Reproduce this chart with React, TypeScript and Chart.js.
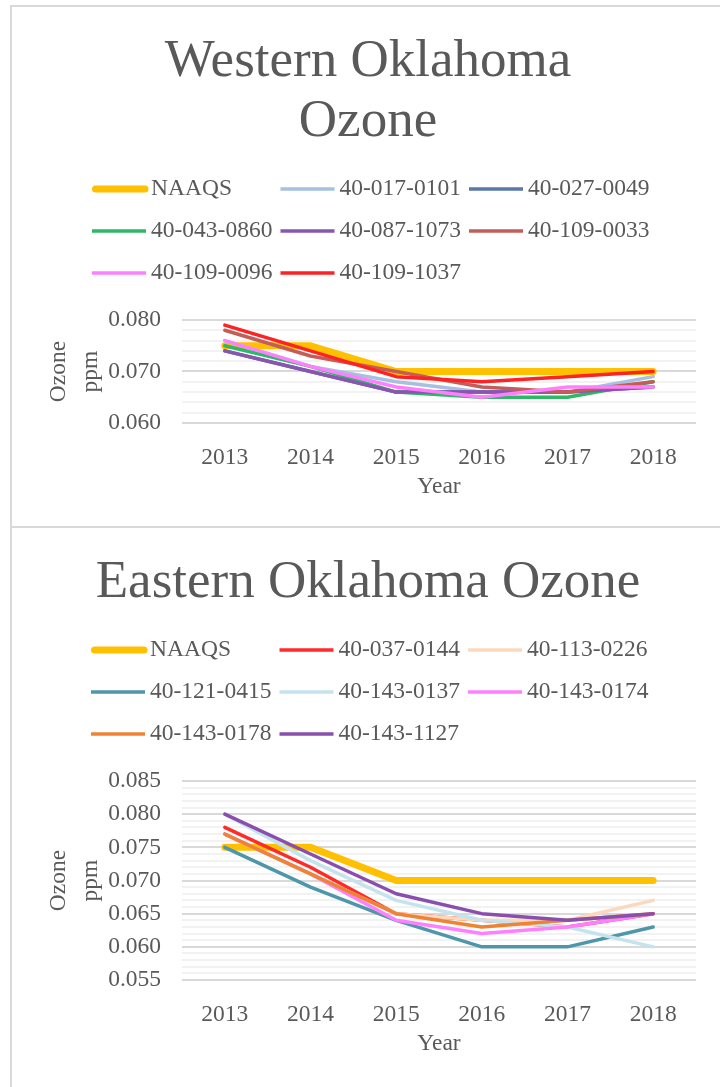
import React, { useEffect, useRef } from 'react';
import { Chart, registerables } from 'chart.js';

Chart.register(...registerables);

const FONT = "'Liberation Serif', 'Times New Roman', serif";
const TEXT = '#595959';

// ---- data ----
const YEARS = ['2013', '2014', '2015', '2016', '2017', '2018'];
const NAAQS = [0.075, 0.075, 0.07, 0.07, 0.07, 0.07];

// Western Oklahoma
const W_017_0101 = [0.076, 0.071, 0.068, 0.066, 0.066, 0.069];
const W_027_0049 = [0.074, 0.07, 0.066, 0.066, 0.066, 0.067];
const W_043_0860 = [0.075, 0.071, 0.066, 0.065, 0.065, 0.068];
const W_087_1073 = [0.074, 0.07, 0.066, 0.066, 0.066, 0.067];
const W_109_0033 = [0.078, 0.073, 0.07, 0.067, 0.066, 0.068];
const W_109_0096 = [0.076, 0.071, 0.067, 0.065, 0.067, 0.067];
const W_109_1037 = [0.079, 0.074, 0.069, 0.068, 0.069, 0.07];

// Eastern Oklahoma
const E_037_0144 = [0.078, 0.072, 0.065, 0.064, 0.063, 0.065];
const E_113_0226 = [0.077, 0.071, 0.065, 0.064, 0.064, 0.067];
const E_121_0415 = [0.075, 0.069, 0.064, 0.06, 0.06, 0.063];
const E_143_0137 = [0.08, 0.073, 0.067, 0.064, 0.063, 0.06];
const E_143_0174 = [0.077, 0.071, 0.064, 0.062, 0.063, 0.065];
const E_143_0178 = [0.077, 0.071, 0.065, 0.063, 0.064, 0.065];
const E_143_1127 = [0.08, 0.074, 0.068, 0.065, 0.064, 0.065];

const WEST_SERIES = [
  { label: 'NAAQS', data: NAAQS, color: '#ffc000' },
  { label: '40-017-0101', data: W_017_0101, color: '#a6c0e0' },
  { label: '40-027-0049', data: W_027_0049, color: '#5a78a8' },
  { label: '40-043-0860', data: W_043_0860, color: '#2cb865' },
  { label: '40-087-1073', data: W_087_1073, color: '#8a55b0' },
  { label: '40-109-0033', data: W_109_0033, color: '#c45c58' },
  { label: '40-109-0096', data: W_109_0096, color: '#ff80ff' },
  { label: '40-109-1037', data: W_109_1037, color: '#ff2222' },
];

const EAST_SERIES = [
  { label: 'NAAQS', data: NAAQS, color: '#ffc000' },
  { label: '40-037-0144', data: E_037_0144, color: '#ff2a2a' },
  { label: '40-113-0226', data: E_113_0226, color: '#fcd8bc' },
  { label: '40-121-0415', data: E_121_0415, color: '#4e96aa' },
  { label: '40-143-0137', data: E_143_0137, color: '#c5e3ec' },
  { label: '40-143-0174', data: E_143_0174, color: '#ff80ff' },
  { label: '40-143-0178', data: E_143_0178, color: '#ee8433' },
  { label: '40-143-1127', data: E_143_1127, color: '#8a4fae' },
];

function gridLegend(colX: number) {
  return {
    id: 'gridLegend',
    afterDraw(chart: any) {
      const ctx = chart.ctx;
      const top = chart.chartArea.top;
      const rows = [-131, -89, -47];
      ctx.save();
      chart.data.datasets.forEach((ds: any, i: number) => {
        const r = Math.floor(i / 3);
        const c = i % 3;
        const x = colX + 188.5 * c;
        const y = top + rows[r];
        ctx.strokeStyle = ds.borderColor;
        ctx.lineWidth = ds.borderWidth;
        ctx.beginPath();
        if (i === 0) {
          ctx.lineCap = 'round';
          ctx.moveTo(x + 3.5, y);
          ctx.lineTo(x + 53, y);
        } else {
          ctx.lineCap = 'butt';
          ctx.moveTo(x, y);
          ctx.lineTo(x + 54, y);
        }
        ctx.stroke();
        ctx.fillStyle = TEXT;
        ctx.font = `23.5px ${FONT}`;
        ctx.textBaseline = 'middle';
        ctx.textAlign = 'left';
        ctx.fillText(ds.label, x + 59, y);
      });
      ctx.restore();
    },
  };
}

type Props = {
  title: string | string[];
  series: { label: string; data: number[]; color: string }[];
  yMin: number;
  yMax: number;
  step: number;
  major: number;
  width: number;
  height: number;
  titlePad: { top: number; bottom: number };
  bottomPad: number;
  colX: number;
};

function OzoneChart(p: Props) {
  const ref = useRef<HTMLCanvasElement | null>(null);
  useEffect(() => {
    if (!ref.current) return;
    const n = p.series.length;
    const isMajor = (v: number) => Math.round(v * 1000) % p.major === 0;
    const chart = new Chart(ref.current, {
      type: 'line',
      data: {
        labels: YEARS,
        datasets: p.series.map((s, i) => ({
          label: s.label,
          data: s.data,
          borderColor: s.color,
          backgroundColor: s.color,
          borderWidth: i === 0 ? 7 : 3.5,
          borderCapStyle: 'round',
          borderJoinStyle: 'round',
          pointRadius: 0,
          pointHoverRadius: 0,
          tension: 0,
          fill: false,
          order: n - i,
          yAxisID: 'y',
        })),
      },
      options: {
        responsive: false,
        animation: false,
        events: [],
        layout: { padding: { left: 0, right: 0, top: 0, bottom: p.bottomPad } },
        plugins: {
          legend: { display: false },
          tooltip: { enabled: false },
          title: {
            display: true,
            text: p.title,
            color: TEXT,
            font: { family: FONT, size: 53, weight: 'normal', lineHeight: 60 / 53 },
            padding: p.titlePad,
          },
        },
        scales: {
          x: {
            offset: true,
            grid: { display: false },
            border: { display: false },
            ticks: {
              color: TEXT,
              font: { family: FONT, size: 23.5 },
              padding: 13,
              maxRotation: 0,
              autoSkip: false,
            },
            title: {
              display: true,
              text: 'Year',
              color: TEXT,
              font: { family: FONT, size: 23.5, lineHeight: 1.2 },
              padding: { top: 0, bottom: 25 },
            },
            afterFit: (s: any) => {
              s.height = 103;
            },
          },
          y: {
            min: p.yMin,
            max: p.yMax,
            border: { display: false },
            grid: {
              drawTicks: false,
              lineWidth: 2,
              color: (c: any) => (c.tick && isMajor(c.tick.value) ? '#d9d9d9' : '#f2f2f2'),
            },
            ticks: {
              stepSize: p.step,
              maxTicksLimit: 200,
              autoSkip: false,
              padding: 21,
              color: TEXT,
              font: { family: FONT, size: 23.5 },
              callback: (v: any) => (isMajor(Number(v)) ? Number(v).toFixed(3) : ''),
            },
            title: {
              display: true,
              text: ['Ozone', 'ppm'],
              color: TEXT,
              font: { family: FONT, size: 23.5, lineHeight: 32 / 23.5 },
              padding: { top: 32, bottom: 0 },
            },
            afterFit: (s: any) => {
              s.width = 171;
            },
          },
          yRight: {
            position: 'right',
            display: true,
            min: p.yMin,
            max: p.yMax,
            grid: { display: false, drawTicks: false },
            border: { display: false },
            ticks: { display: false },
            afterFit: (s: any) => {
              s.width = 29;
            },
          },
        },
      } as any,
      plugins: [gridLegend(p.colX)],
    });
    return () => chart.destroy();
  }, []);
  return <canvas ref={ref} width={p.width} height={p.height} style={{ display: 'block' }} />;
}

export default function App() {
  return (
    <div
      style={{
        position: 'fixed',
        left: 0,
        top: 0,
        width: 720,
        height: 1087,
        overflow: 'hidden',
        background: '#ffffff',
      }}
    >
      <div
        style={{
          position: 'absolute',
          left: 10,
          top: 5,
          width: 740,
          height: 523,
          boxSizing: 'border-box',
          border: '2px solid #d9d9d9',
        }}
      />
      <div
        style={{
          position: 'absolute',
          left: 10,
          top: 528,
          width: 740,
          height: 700,
          boxSizing: 'border-box',
          borderLeft: '2px solid #d9d9d9',
        }}
      />
      <div style={{ position: 'absolute', left: 11, top: 6 }}>
        <OzoneChart
          title={['Western Oklahoma', 'Ozone']}
          series={WEST_SERIES}
          yMin={0.06}
          yMax={0.08}
          step={0.002}
          major={10}
          width={714}
          height={520}
          titlePad={{ top: 26, bottom: 168 }}
          bottomPad={0}
          colX={81}
        />
      </div>
      <div style={{ position: 'absolute', left: 11, top: 529 }}>
        <OzoneChart
          title="Eastern Oklahoma Ozone"
          series={EAST_SERIES}
          yMin={0.055}
          yMax={0.085}
          step={0.001}
          major={5}
          width={714}
          height={600}
          titlePad={{ top: 24, bottom: 168 }}
          bottomPad={46}
          colX={80}
        />
      </div>
    </div>
  );
}
